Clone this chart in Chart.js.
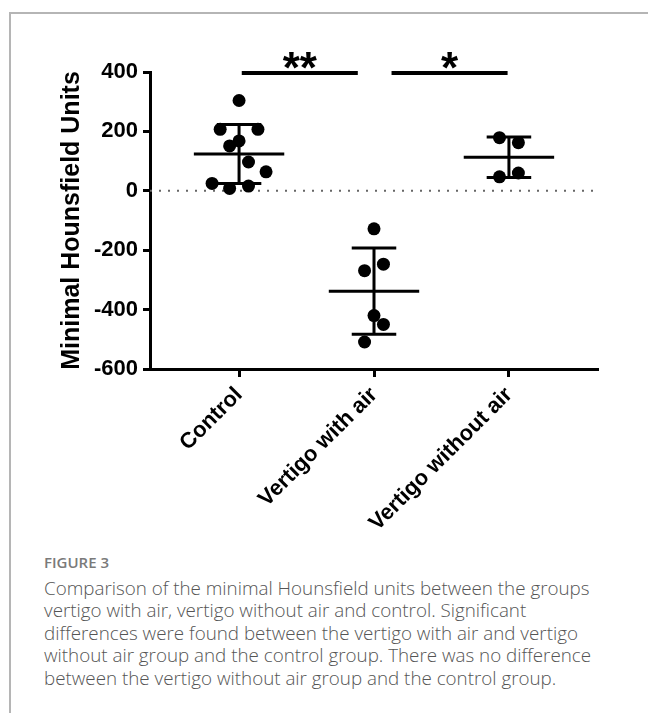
<!DOCTYPE html>
<html>
<head>
<meta charset="utf-8">
<script src="https://cdn.jsdelivr.net/npm/chart.js@4.4.1/dist/chart.umd.min.js"></script>
<style>
  html, body { margin: 0; padding: 0; background: #fff; }
  body { width: 648px; height: 713px; position: relative; overflow: hidden; }
  #chart { position: absolute; left: 0; top: 0; }
  .frame-top { position: absolute; left: 9px; top: 12px; width: 640px; height: 2px; background: #b5b5b5; }
  .frame-left { position: absolute; left: 9px; top: 12px; width: 2px; height: 701px; background: #b5b5b5; }
  .caption { position: absolute; left: 44px; top: 552px; font-family: "Open Sans", "Noto Sans", sans-serif; }
  .caption .label { font-size: 15px; font-weight: 600; color: #7a7a7a; line-height: 20px; }
  .caption .text { font-size: 18.8px; font-weight: 300; color: #555; line-height: 22.4px; white-space: nowrap; margin-top: 5px; }
</style>
</head>
<body>
<canvas id="chart" width="648" height="540"></canvas>
<div class="frame-top"></div>
<div class="frame-left"></div>
<div class="caption">
  <div class="label">FIGURE 3</div>
  <div class="text">Comparison of the minimal Hounsfield units between the groups<br>vertigo with air, vertigo without air and control. Significant<br>differences were found between the vertigo with air and vertigo<br>without air group and the control group. There was no difference<br>between the vertigo without air group and the control group.</div>
</div>
<script>
// Dados
const categories = ['Control', 'Vertigo with air', 'Vertigo without air'];

const controlValues = [304, 207, 207, 168, 151, 97, 64, 25, 8, 16];
const controlJitter = [0, -0.14, 0.14, 0, -0.07, 0.07, 0.2, -0.2, -0.07, 0.07];

const withAirValues = [-128, -247, -269, -420, -450, -509];
const withAirJitter = [0, 0.07, -0.07, 0, 0.07, -0.07];

const withoutAirValues = [179, 162, 47, 60];
const withoutAirJitter = [-0.07, 0.07, -0.07, 0.07];

const groupMeans = [124, -338, 113];
const groupSD = [99, 145, 68];

const yTicks = [-600, -400, -200, 0, 200, 400];

// barras de significância: [início, fim] em unidades de categoria
const sigPairs = [[0.02, 0.88], [1.13, 1.99]];
const sigLabels = ['**', '*'];
const sigLevel = 397;

const X_MIN = -0.66, X_MAX = 2.66;
const MEAN_HALF = 0.335, CAP_HALF = 0.165;

const FONT = "'Liberation Sans', Arial, Helvetica, sans-serif";

const groups = [
    { values: controlValues, jitter: controlJitter },
    { values: withAirValues, jitter: withAirJitter },
    { values: withoutAirValues, jitter: withoutAirJitter }
];

const points = [];
groups.forEach((g, i) => {
    g.values.forEach((v, k) => points.push({ x: i + g.jitter[k], y: v }));
});

const lineSet = (data, width, extra) => Object.assign({
    data,
    showLine: true,
    borderColor: '#000',
    borderWidth: width,
    pointRadius: 0,
    spanGaps: false,
    clip: false
}, extra || {});

const datasets = [];

// pontos individuais
datasets.push({
    data: points,
    backgroundColor: '#000',
    borderWidth: 0,
    pointRadius: 6.5,
    pointHoverRadius: 6.5,
    clip: false
});

// média e desvio padrão de cada grupo
groupMeans.forEach((m, i) => {
    const hi = m + groupSD[i], lo = m - groupSD[i];
    datasets.push(lineSet([
        { x: i - MEAN_HALF, y: m }, { x: i + MEAN_HALF, y: m }
    ], 3));
    datasets.push(lineSet([
        { x: i - CAP_HALF, y: hi }, { x: i + CAP_HALF, y: hi }, { x: i, y: null },
        { x: i, y: hi }, { x: i, y: lo }, { x: i, y: null },
        { x: i - CAP_HALF, y: lo }, { x: i + CAP_HALF, y: lo }
    ], 3));
});

// linha pontilhada em zero
datasets.push(lineSet([{ x: X_MIN, y: 0 }, { x: X_MAX, y: 0 }], 2, {
    borderColor: '#666',
    borderDash: [2, 7]
}));

// barras de significância
sigPairs.forEach(p => {
    datasets.push(lineSet([{ x: p[0], y: sigLevel }, { x: p[1], y: sigLevel }], 4, { borderCapStyle: 'butt' }));
});

// desenha os asteriscos acima das barras
const starsPlugin = {
    id: 'stars',
    afterDatasetsDraw(chart) {
        const { ctx, scales } = chart;
        ctx.save();
        ctx.fillStyle = '#000';
        ctx.font = `bold 44px ${FONT}`;
        ctx.textAlign = 'center';
        ctx.textBaseline = 'alphabetic';
        sigPairs.forEach((p, i) => {
            const x = scales.x.getPixelForValue((p[0] + p[1]) / 2);
            const y = scales.y.getPixelForValue(sigLevel) + 10;
            ctx.fillText(sigLabels[i], x, y);
        });
        ctx.restore();
    }
};

Chart.defaults.font.family = FONT;
Chart.defaults.color = '#000';

new Chart(document.getElementById('chart'), {
    type: 'scatter',
    data: { datasets },
    plugins: [starsPlugin],
    options: {
        responsive: false,
        animation: false,
        devicePixelRatio: 1,
        layout: { padding: { top: 72, right: 50, bottom: 0, left: 50 } },
        plugins: { legend: { display: false }, tooltip: { enabled: false } },
        scales: {
            x: {
                type: 'linear',
                min: X_MIN,
                max: X_MAX,
                afterBuildTicks: (scale) => { scale.ticks = categories.map((_, i) => ({ value: i })); },
                afterFit: (scale) => {
                    scale.height = 171;
                    scale.paddingLeft = 0; scale.paddingRight = 0;
                },
                ticks: {
                    callback: (v) => categories[v],
                    minRotation: 45,
                    maxRotation: 45,
                    autoSkip: false,
                    padding: 5,
                    font: { size: 22, weight: 'bold' },
                    color: '#000'
                },
                grid: { drawOnChartArea: false, drawTicks: true, tickLength: 8, tickWidth: 3, tickColor: '#000' },
                border: { display: true, color: '#000', width: 3 }
            },
            y: {
                min: -600,
                max: 400,
                afterBuildTicks: (scale) => { scale.ticks = yTicks.map(v => ({ value: v })); },
                afterFit: (scale) => {
                    scale.width = 100;
                    scale.paddingTop = 0; scale.paddingBottom = 0;
                },
                ticks: {
                    padding: 5,
                    font: { size: 22, weight: 'bold' },
                    color: '#000'
                },
                title: {
                    display: true,
                    text: 'Minimal Hounsfield Units',
                    font: { size: 25, weight: 'bold' },
                    color: '#000',
                    padding: { top: 7, bottom: 0 }
                },
                grid: { drawOnChartArea: false, drawTicks: true, tickLength: 7, tickWidth: 3, tickColor: '#000' },
                border: { display: true, color: '#000', width: 3 }
            }
        }
    }
});
</script>
</body>
</html>
